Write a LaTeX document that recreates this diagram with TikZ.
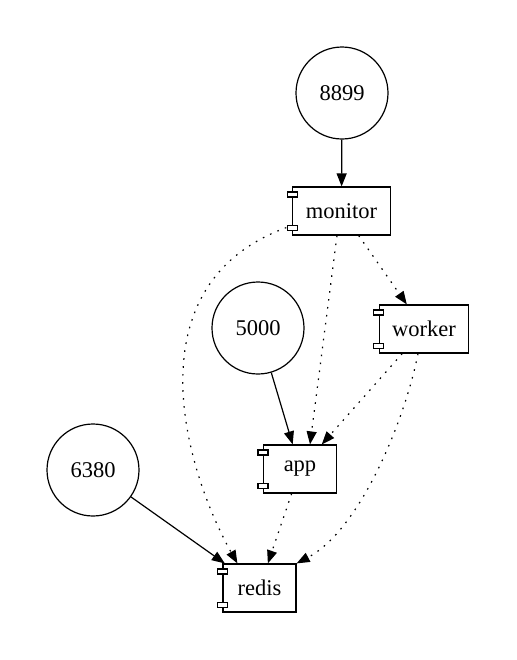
\documentclass[tikz,border=0pt]{standalone}
\usepackage{fontspec}
\setmainfont{Liberation Serif}
\usetikzlibrary{arrows.meta}

\tikzset{
  port/.style={circle,draw,line width=0.6pt,minimum size=46pt,inner sep=0pt},
  comp/.style={rectangle,draw,line width=0.6pt,minimum width=36.5pt,minimum height=24pt,inner xsep=6.5pt},
  dep/.style={dash pattern=on 0.8pt off 3.2pt}
}

\begin{document}
\begin{tikzpicture}[x=0.5pt,y=-0.5pt,font=\fontsize{11.25}{13}\selectfont]
    \useasboundingbox (0,0) rectangle (517,660);
    \begin{scope}[every node/.style={port}]
      \node (p8899) at (342,93)  {8899};
      \node (p5000) at (258,328) {5000};
      \node (p6380) at (93,470)  {6380};
    \end{scope}
    \begin{scope}[every node/.style={comp}]
      \node (monitor) at (341.5,211) {monitor};
      \node (worker)  at (424,329)   {worker};
      \node (app)     at (300,469)   {app};
      \node (redis)   at (259.5,588) {redis};
    \end{scope}
    % the two little tabs on each component
    \foreach \c in {monitor,worker,app,redis} {
      \draw[line width=0.6pt,fill=white] ([yshift=-4pt]\c.north west) ++(-2.5pt,-1.25pt) rectangle ++(5pt,2.5pt);
      \draw[line width=0.6pt,fill=white] ([yshift=4pt]\c.south west) ++(-2.5pt,-1.25pt) rectangle ++(5pt,2.5pt);
    }
    \begin{scope}[>={Triangle[black,length=6.5pt,width=5pt]},every edge/.style={draw=black,line width=0.6pt}]
      \path[->] (p8899) edge (monitor)
                (p5000) edge (app)
                (p6380) edge (redis);
      \path[->] (monitor) edge[dep] (worker)
                ([xshift=-2.25pt]monitor.south) edge[dep] ([xshift=5pt]app.north)
                (worker)  edge[dep] (app)
                (app)     edge[dep] (redis);
      \draw[->,dep,line width=0.6pt] ([xshift=-3pt,yshift=4pt]monitor.south west)
          .. controls (130,285) and (185,470) .. ([xshift=7.5pt]redis.north west);
      \draw[->,dep,line width=0.6pt] ([xshift=-3pt]worker.south)
          .. controls (405,420) and (360,530) .. (redis.north east);
    \end{scope}
\end{tikzpicture}
\end{document}
